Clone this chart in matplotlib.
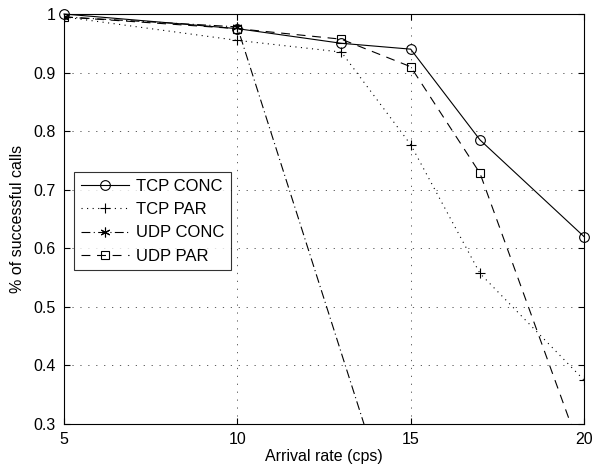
import numpy as np
import matplotlib
matplotlib.use('Agg')
import matplotlib.pyplot as plt

# arrival rates (cps)
rate = [5, 10, 13, 15, 17, 20]

# fraction of successful calls per scenario
tcp_conc = [1.0, 0.975, 0.950, 0.940, 0.785, 0.620]
tcp_par = [0.995, 0.955, 0.935, 0.777, 0.557, 0.375]
udp_conc_rate = [5, 10, 15, 17, 20]
udp_conc = [0.995, 0.978, 0.05, 0.0, 0.0]
udp_par = [0.995, 0.975, 0.957, 0.910, 0.728, 0.238]

plt.rcParams['font.family'] = ['Liberation Sans', 'DejaVu Sans']
plt.rcParams['font.size'] = 11.5

fig = plt.figure(figsize=(5.99, 4.68), dpi=100)
ax = fig.add_axes([64 / 599, 1 - 424 / 468, 520 / 599, 410 / 468])

ax.plot(rate, tcp_conc, color='k', linestyle='-', linewidth=0.8,
        marker='o', markersize=7, markerfacecolor='none', markeredgewidth=0.8,
        label='TCP CONC', clip_on=False)
ax.plot(rate, tcp_par, color='k', linestyle=(0, (1, 4)), linewidth=0.8,
        marker='+', markersize=7, markeredgewidth=0.8,
        label='TCP PAR', clip_on=True)
ax.plot(udp_conc_rate, udp_conc, color='k', linestyle=(0, (8, 3, 1, 3)), linewidth=0.8,
        marker=(6, 2, 0), markersize=7, markeredgewidth=0.8,
        label='UDP CONC')
ax.plot(rate, udp_par, color='k', linestyle=(0, (8, 6)), linewidth=0.8,
        marker='s', markersize=6, markerfacecolor='none', markeredgewidth=0.8,
        label='UDP PAR')

ax.set_xlim(5, 20)
ax.set_ylim(0.3, 1.0)
ax.set_xticks([5, 10, 15, 20])
ax.set_yticks(np.arange(0.3, 1.01, 0.1))
ax.set_yticklabels(['0.3', '0.4', '0.5', '0.6', '0.7', '0.8', '0.9', '1'])
ax.grid(True, color='#444444', linestyle=(0, (1.5, 8)), linewidth=0.6)
ax.tick_params(direction='in', top=True, right=True, length=4, pad=6)
for s in ax.spines.values():
    s.set_linewidth(0.8)

ax.set_xlabel('Arrival rate (cps)', labelpad=1)
ax.set_ylabel('% of successful calls', labelpad=6)

leg = ax.legend(loc='upper left', bbox_to_anchor=(10 / 520, 252 / 410),
                frameon=True, fancybox=False, edgecolor='k',
                handlelength=2.9, fontsize=12, borderpad=0.4,
                labelspacing=0.5, handletextpad=0.4, borderaxespad=0)
leg.get_frame().set_linewidth(0.8)

fig.savefig('out.png', dpi=100)
